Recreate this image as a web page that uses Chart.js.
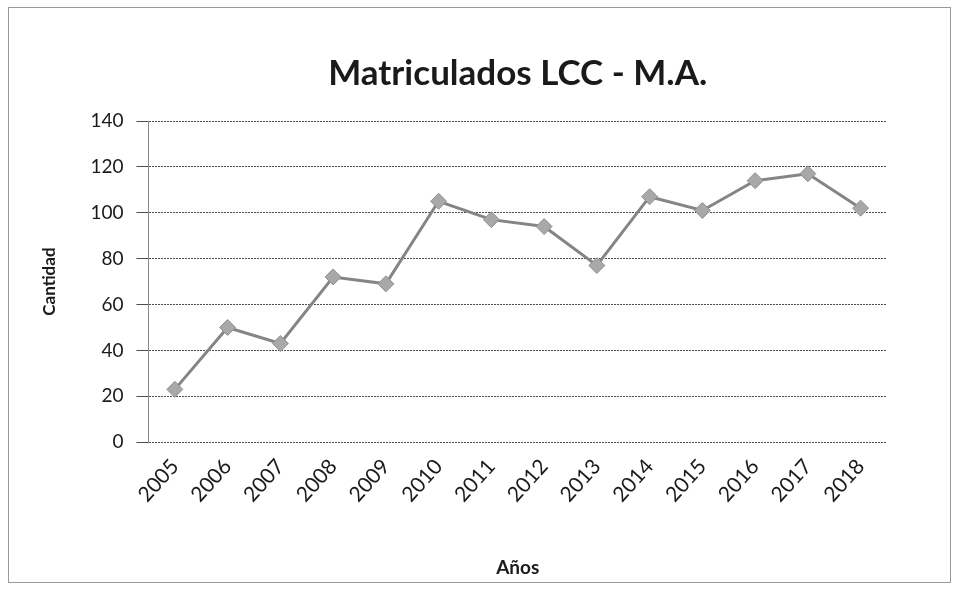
<!DOCTYPE html>
<html>
<head>
<meta charset="utf-8">
<script src="https://cdn.jsdelivr.net/npm/chart.js@4"></script>
<style>
	body { margin: 0; background: #fff; }
	#wrap { width: 961px; height: 593px; position: relative; }
</style>
</head>
<body>
<div id="wrap"><canvas id="chart"></canvas></div>
<script>
// values
var years = ['2005', '2006', '2007', '2008', '2009', '2010', '2011',
	'2012', '2013', '2014', '2015', '2016', '2017', '2018'];
var matriculados = [23, 50, 43, 72, 69, 105, 97, 94, 77, 107, 101, 114, 117, 102];
var yMin = 0;
var yMax = 140;
var yStep = 20;

var titleText = 'Matriculados LCC - M.A.';
var xTitle = 'Años';
var yTitle = 'Cantidad';

var fontFamily = 'Lato, "Open Sans", sans-serif';

// thin grey frame round the whole chart, like the excel chart area
const frame = {
	id: 'frame',
	afterDraw(chart) {
		const ctx = chart.ctx;
		ctx.save();
		ctx.strokeStyle = '#9a9a9a';
		ctx.lineWidth = 1;
		ctx.strokeRect(8.5, 7.5, chart.width - 19, chart.height - 18);
		ctx.restore();
	}
};

const data = {
	labels: years,
	datasets: [{
		type: 'line',
		data: matriculados,
		borderColor: '#858585',
		borderWidth: 3,
		pointStyle: 'rectRot',
		pointRadius: 8,
		pointBackgroundColor: '#a8a8a8',
		pointBorderColor: '#909090',
		pointBorderWidth: 1,
		tension: 0,
		fill: false
	}]
};

const config = {
	data: data,
	options: {
		responsive: true,
		maintainAspectRatio: false,
		animation: false,
		layout: {
			padding: { top: 53, left: 39, right: 74, bottom: 14 }
		},
		plugins: {
			legend: { display: false },
			tooltip: { enabled: false },
			title: {
				display: true,
				fullSize: false,
				text: titleText,
				color: '#1a1a1a',
				font: { family: fontFamily, size: 35, weight: 'bold' },
				padding: { top: 0, bottom: 26 }
			}
		},
		scales: {
			x: {
				offset: true,
				grid: { display: false },
				border: { display: false },
				ticks: {
					color: '#1a1a1a',
					font: { family: fontFamily, size: 21 },
					maxRotation: 48,
					minRotation: 48,
					padding: 4
				},
				title: {
					display: true,
					text: xTitle,
					color: '#1a1a1a',
					font: { family: fontFamily, size: 19, weight: 'bold' },
					padding: { top: 45, bottom: 0 }
				}
			},
			y: {
				min: yMin,
				max: yMax,
				grid: {
					color: '#4d4d4d',
					lineWidth: 1,
					tickLength: 12
				},
				border: {
					display: true,
					color: '#8a8a8a',
					dash: [2, 1]
				},
				ticks: {
					stepSize: yStep,
					color: '#1a1a1a',
					font: { family: fontFamily, size: 19 },
					padding: 13
				},
				title: {
					display: true,
					text: yTitle,
					color: '#1a1a1a',
					font: { family: fontFamily, size: 17, weight: 'bold' },
					padding: { top: 0, bottom: 18 }
				}
			}
		}
	},
	plugins: [frame]
};

new Chart(document.getElementById('chart'), config);
</script>
</body>
</html>
